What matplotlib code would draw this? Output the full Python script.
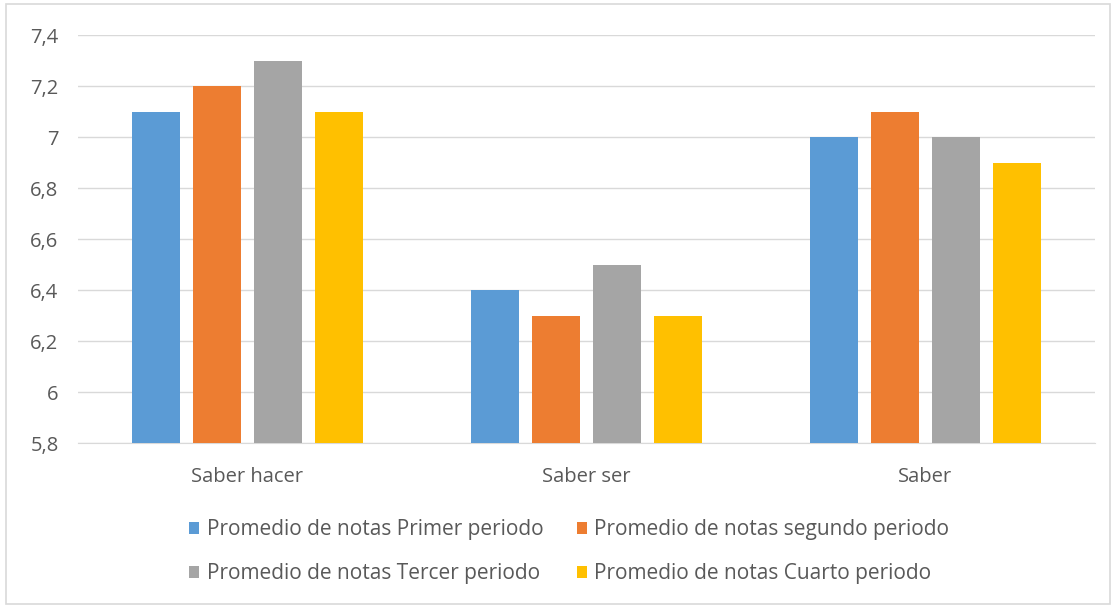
import matplotlib.pyplot as plt
import numpy as np
from matplotlib.patches import Rectangle
from matplotlib.ticker import FuncFormatter

categories = ["Saber hacer", "Saber ser", "Saber"]
series_names = [
    "Promedio de notas Primer periodo",
    "Promedio de notas segundo periodo",
    "Promedio de notas Tercer periodo",
    "Promedio de notas Cuarto periodo",
]
primer = [7.1, 6.4, 7.0]
segundo = [7.2, 6.3, 7.1]
tercer = [7.3, 6.5, 7.0]
cuarto = [7.1, 6.3, 6.9]
colors = ["#5B9BD5", "#ED7D31", "#A5A5A5", "#FFC000"]

plt.rcParams['font.family'] = ['Open Sans', 'DejaVu Sans']

fig = plt.figure(figsize=(11.16, 6.07), dpi=100)
ax = fig.add_axes([0.0699, 0.270, 0.911, 0.672])

x = np.arange(len(categories))
width = 0.142
step = 0.18
all_series = [primer, segundo, tercer, cuarto]
bars = []
for i, vals in enumerate(all_series):
    base = 5.8
    b = ax.bar(x + (i - 1.5) * step, np.array(vals) - base, width, bottom=base,
               color=colors[i], label=series_names[i], zorder=3)
    bars.append(b)

ax.set_xlim(-0.5, 2.5)
ax.set_ylim(5.8, 7.4)
ax.set_yticks(np.arange(5.8, 7.41, 0.2))
ax.yaxis.set_major_formatter(FuncFormatter(
    lambda v, p: ("%g" % round(v, 1)).replace(".", ",")))
ax.set_xticks(x)
ax.set_xticklabels(categories)
ax.grid(axis='y', color="#D9D9D9", linewidth=1, zorder=0)
for s in ax.spines.values():
    s.set_visible(False)
ax.spines['bottom'].set_visible(True)
ax.spines['bottom'].set_color("#D9D9D9")
ax.tick_params(axis='both', length=0, labelsize=14.5, colors="#595959")
ax.tick_params(axis='y', pad=14)
ax.tick_params(axis='x', pad=17)

order = [0, 2, 1, 3]
fig.legend([bars[i] for i in order], [series_names[i] for i in order],
           loc='center', bbox_to_anchor=(0.510, 0.091), ncol=2, frameon=False,
           fontsize=15, labelcolor="#595959", handlelength=0.5, handleheight=0.5,
           handletextpad=0.35, columnspacing=1.6, labelspacing=1.1)

fig.patches.append(Rectangle((0.005, 0.005), 0.99, 0.988, transform=fig.transFigure,
                             fill=False, edgecolor="#D9D9D9", linewidth=1.2))

fig.savefig("out.png", dpi=100)
